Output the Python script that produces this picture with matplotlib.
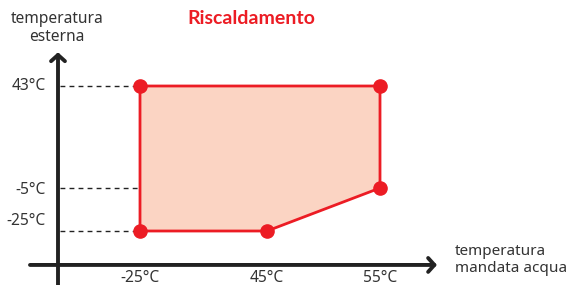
import matplotlib
matplotlib.use('Agg')
import matplotlib.pyplot as plt
import numpy as np

plt.rcParams['font.family'] = ['Noto Sans', 'DejaVu Sans']

# data: operating envelope (water flow temp vs outdoor temp)
acqua = [-25, 55, 55, 45, -25]
esterna = [43, 43, -5, -25, -25]
x_ticks = [-25, 45, 55]
y_ticks = [43, -5, -25]
x_ticklabels = ['-25°C', '45°C', '55°C']
y_ticklabels = ['43°C', '-5°C', '-25°C']
title = 'Riscaldamento'
xlabel = 'temperatura\nmandata acqua'
ylabel = 'temperatura\nesterna'

# schematic (non linear) axes -> piecewise scale
xv = [-60, -25, 45, 55, 90]
xp = [0, 140, 267, 380, 570]
yv = [-60, -25, -5, 43, 80]
yp = [0, 54, 97, 199, 285]

red = '#ec1c24'
fill = '#fbd4c3'
dark = '#222222'
txt = '#333333'

fig = plt.figure(figsize=(5.7, 2.85), dpi=100)
ax = fig.add_axes([0, 0, 1, 1])
ax.set_xscale('function', functions=(lambda v: np.interp(v, xv, xp),
                                     lambda p: np.interp(p, xp, xv)))
ax.set_yscale('function', functions=(lambda v: np.interp(v, yv, yp),
                                     lambda p: np.interp(p, yp, yv)))
ax.set_xlim(-60, 90)
ax.set_ylim(-60, 80)
ax.axis('off')

x0 = -45.5   # position of y axis
y0 = -47.0   # position of x axis

# axes arrows
arr = dict(arrowstyle='->,head_length=0.45,head_width=0.5',
           lw=2.8, color=dark, shrinkA=0, shrinkB=0)
ax.annotate('', xy=(x0, 57.5), xytext=(x0, -60), arrowprops=arr)
ax.annotate('', xy=(65.5, y0), xytext=(-52.5, y0), arrowprops=arr)

# dashed guides
for yy in y_ticks:
    ax.plot([x0 + 0.6, -25], [yy, yy], ls=(0, (3.5, 3)), lw=1, color=dark)

ax.fill(acqua, esterna, color=fill, zorder=2)
ax.plot(acqua + acqua[:1], esterna + esterna[:1], color=red, lw=2, zorder=3)
ax.plot(acqua, esterna, 'o', color=red, ms=9.5, zorder=4, ls='none')

# tick labels
for xx, lab in zip(x_ticks, x_ticklabels):
    ax.annotate(lab, (xx, y0), xytext=(0, -4), textcoords='offset points',
                ha='center', va='top', fontsize=11.2, color=txt)
offs = {43: 0, -5: -1.5, -25: 7}
for yy, lab in zip(y_ticks, y_ticklabels):
    ax.annotate(lab, (x0, yy), xytext=(-9, offs[yy]), textcoords='offset points',
                ha='right', va='center', fontsize=11.2, color=txt)

ax.text(57 / 570, 1 - 11 / 285, ylabel, transform=ax.transAxes, ha='center',
        va='top', fontsize=11.2, color=txt, linespacing=1.15)
ax.text(455 / 570, 1 - 244 / 285, xlabel, transform=ax.transAxes, ha='left',
        va='top', fontsize=11, color=txt, linespacing=1.15)
ax.text(251 / 570, 1 - 19 / 285, title, transform=ax.transAxes, ha='center',
        va='center', fontsize=14, fontweight='bold', color=red,
        family=['Lato', 'DejaVu Sans'])

fig.savefig('out.png', dpi=100)
